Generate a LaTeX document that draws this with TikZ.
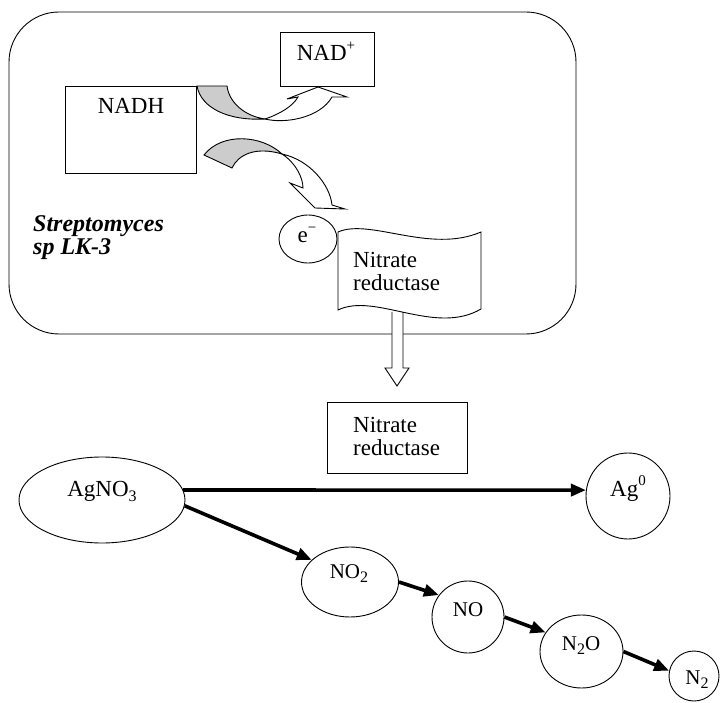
\documentclass[tikz,border=0pt]{standalone}
\usepackage{fontspec}
\setmainfont{Liberation Serif}
\usetikzlibrary{arrows.meta,shapes.geometric}
\newcommand\mysub[1]{\raisebox{-0.22em}{\fontsize{16}{16}\selectfont #1}}
\newcommand\mysup[1]{\raisebox{0.45em}{\fontsize{15}{15}\selectfont #1}}
\begin{document}
\begin{tikzpicture}[x=1pt,y=-1pt,
  lab/.style={font=\fontsize{23}{27}\selectfont, inner sep=0pt, anchor=base},
  labw/.style={font=\fontsize{23}{27}\selectfont, inner sep=0pt, anchor=base west},
  slab/.style={font=\fontsize{21}{25}\selectfont, inner sep=0pt, anchor=base},
  strep/.style={font=\fontsize{24}{27}\selectfont\bfseries\itshape, inner sep=0pt, anchor=base west},
  rbox/.style={draw, line width=0.9pt, rectangle, inner sep=0pt, fill=white},
  ell/.style={draw, line width=0.9pt, ellipse, inner sep=0pt},
  outline/.style={draw=black, line width=0.9pt, line join=miter},
  flow/.style={line width=3.6pt, -{Triangle[length=15pt,width=12pt]}}]
\fill[white] (0,0) rectangle (723,703);
\useasboundingbox (0,0) rectangle (723,703);

% cell
\node[rbox, rounded corners=50pt, minimum width=567pt, minimum height=322pt] (cell) at (292.5,173) {};

% NADH and NAD+
\node[rbox, minimum width=131pt, minimum height=87pt] (nadhbox) at (130.5,129.5) {};
\node[lab] (nadh) at (131,114) {NADH};
\node[rbox, minimum width=94pt, minimum height=54pt] (nadbox) at (327,59) {};
\node[lab] (nad) at (326,61) {NAD\mysup{+}};

% curved arrow 1 (NADH -> NAD+)
\filldraw[outline, fill=gray!40] (197,86) -- (227,86) .. controls (229,102) and (244,116) .. (265,119)
   .. controls (228,121) and (201,108) .. (197,86) -- cycle;
\filldraw[outline, fill=white] (265,119) .. controls (285,124) and (320,118) .. (332,97)
   -- (347,97) -- (318,87) -- (287,99) -- (298,97)
   .. controls (293,106) and (280,114) .. (265,119) -- cycle;

% curved arrow 2 (NADH -> e-)
\filldraw[outline, fill=gray!40] (204,155) .. controls (222,132) and (262,135) .. (282,154)
   .. controls (255,146) and (238,155) .. (232,168) -- cycle;
\filldraw[outline, fill=white] (282,154) .. controls (296,163) and (303,178) .. (303,188)
   -- (290,183) -- (315,208) -- (345,209) -- (332,205)
   .. controls (330,185) and (310,160) .. (282,154) -- cycle;

% electron
\node[ell, minimum width=58pt, minimum height=48pt] (ecirc) at (308,239) {};
\node[lab] (elec) at (307,243) {e\mysup{−}};

% block arrow down
\filldraw[outline, fill=white] (392,312) -- (392,368) -- (385,368) -- (397,386) -- (409,368) -- (403,368) -- (403,312);

% nitrate reductase (wavy)
\filldraw[outline, fill=white] (338,232) .. controls (370,218) and (430,254) .. (481,232)
   -- (481,309) .. controls (435,336) and (375,292) .. (338,310) -- cycle;
\node[labw] (nr1) at (353,268) {Nitrate};
\node[labw] (nr2) at (353,291) {reductase};

% Streptomyces label
\node[strep] (sp1) at (33,232) {Streptomyces};
\node[strep] (sp2) at (33,255) {sp LK-3};

% nitrate reductase box
\node[rbox, minimum width=140pt, minimum height=71pt] (nrbox) at (397,437.5) {};
\node[labw] (nrb1) at (353,432) {Nitrate};
\node[labw] (nrb2) at (353,455) {reductase};

% reaction species
\node[ell, minimum width=166pt, minimum height=86pt] (agno3) at (102,500) {};
\node[lab] (tagno3) at (102,496) {AgNO\mysub{3}};
\node[ell, minimum width=84pt, minimum height=86pt] (ag0) at (628,496) {};
\node[lab] (tag0) at (628,496) {Ag\mysup{0}};
\node[ell, minimum width=97pt, minimum height=70pt] (no2) at (350,582) {};
\node[slab] (tno2) at (349,578) {NO\mysub{2}};
\node[ell, minimum width=72pt, minimum height=72pt] (no) at (468,617) {};
\node[slab] (tno) at (468,616) {NO};
\node[ell, minimum width=83pt, minimum height=73pt] (n2o) at (581.5,651.5) {};
\node[slab] (tn2o) at (581,650) {N\mysub{2}O};
\node[ell, minimum width=50pt, minimum height=50pt] (n2) at (694,676) {};
\node[slab] (tn2) at (697,684) {N\mysub{2}};

% reactions
\draw[flow] (agno3.7) -- (ag0.172);
\draw[flow] (agno3.-4) -- (no2.150);
\draw[flow] (no2.0) -- (no.143);
\draw[flow] (no.0) -- (n2o.152);
\draw[flow] (n2o.0) -- (n2.168);
\end{tikzpicture}
\end{document}
